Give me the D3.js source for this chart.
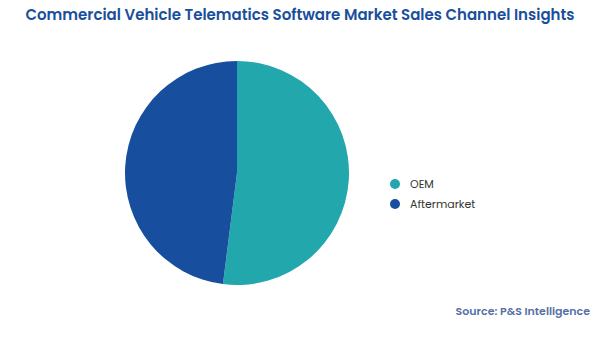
<!DOCTYPE html>
<html>
<head>
<meta charset="utf-8">
<script src="https://cdn.jsdelivr.net/npm/d3@7"></script>
<style>
  body { margin: 0; background: #fff; }
  svg { display: block; font-family: Poppins, Inter, "Open Sans", sans-serif; }
</style>
</head>
<body>
<svg id="chart" width="600" height="337"></svg>
<script>
// Sales channel share (%)
const channels = ['OEM', 'Aftermarket'];
const shares = [52, 48];
const colors = ['#22a7ad', '#174f9e'];

const svg = d3.select('#chart');

svg.append('text')
  .attr('x', 300)
  .attr('y', 20)
  .attr('text-anchor', 'middle')
  .attr('fill', '#1a4f9c')
  .attr('font-size', 15)
  .attr('font-weight', 600)
  .text('Commercial Vehicle Telematics Software Market Sales Channel Insights');

const data = channels.map((c, i) => ({ name: c, value: shares[i] }));
const color = d3.scaleOrdinal().domain(channels).range(colors);

const pie = d3.pie().value(d => d.value).sort(null);
const arc = d3.arc().innerRadius(0).outerRadius(112);

const g = svg.append('g').attr('transform', 'translate(237,173)');
g.selectAll('path')
  .data(pie(data))
  .join('path')
  .attr('d', arc)
  .attr('fill', d => color(d.data.name));

// legend
const legend = svg.append('g').attr('transform', 'translate(395,184)');
const item = legend.selectAll('g')
  .data(channels)
  .join('g')
  .attr('transform', (d, i) => `translate(0,${i * 20})`);

item.append('circle')
  .attr('r', 5)
  .attr('fill', d => color(d));

item.append('text')
  .attr('x', 15)
  .attr('dy', '0.35em')
  .attr('font-size', 11)
  .attr('fill', '#333')
  .text(d => d);

svg.append('text')
  .attr('x', 590)
  .attr('y', 315)
  .attr('text-anchor', 'end')
  .attr('fill', '#5670a6')
  .attr('font-size', 11)
  .attr('font-weight', 600)
  .text('Source: P&S Intelligence');
</script>
</body>
</html>
